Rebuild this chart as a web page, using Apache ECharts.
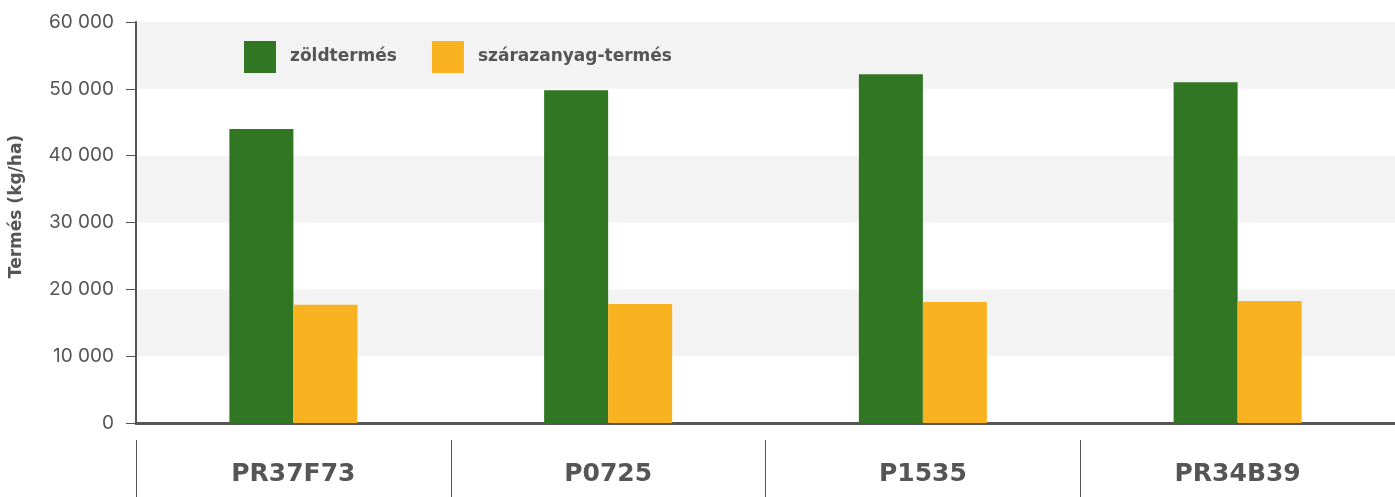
<!DOCTYPE html>
<html><head><meta charset="utf-8">
<script src="https://cdn.jsdelivr.net/npm/echarts@6/dist/echarts.min.js"></script>
<style>html,body{margin:0;padding:0;background:#fff}#c{width:1395px;height:497px}</style>
</head><body><div id="c"></div>
<script>
const categories = ['PR37F73', 'P0725', 'P1535', 'PR34B39'];
const seriesNames = ['zöldtermés', 'szárazanyag-termés'];
const greenValues = [44000, 49800, 52200, 51000];
const dryValues = [17700, 17800, 18100, 18250];
const yTicks = [0, 10000, 20000, 30000, 40000, 50000, 60000];
const yAxisName = 'Termés (kg/ha)';

const fmt = v => String(v).replace(/\B(?=(\d{3})+(?!\d))/g, ' ');
const chart = echarts.init(document.getElementById('c'));
const BOLD = 'DejaVu Sans';
chart.setOption({
  animation: false,
  textStyle: { fontFamily: 'Inter' },
  legend: {
    left: 244, top: 41, itemWidth: 32, itemHeight: 32, itemGap: 35, padding: 0,
    icon: 'rect',
    textStyle: { fontFamily: BOLD, fontSize: 17, fontWeight: 'bold', color: '#555', padding: [0, 0, 0, 9] },
    data: seriesNames
  },
  grid: { left: 136, right: 0, top: 22, bottom: 74, containLabel: false, outerBoundsMode: 'none' },
  xAxis: [{
    type: 'category', data: categories,
    axisLine: { lineStyle: { color: '#555', width: 3 } },
    axisTick: { show: false }, axisLabel: { show: false }
  }, {
    type: 'category', data: categories, position: 'bottom', offset: 17,
    axisLine: { show: false },
    axisTick: { show: true, length: 60, lineStyle: { color: '#555', width: 1 } },
    axisLabel: { fontFamily: BOLD, fontSize: 25, fontWeight: 'bold', color: '#555', margin: 22 }
  }],
  yAxis: {
    type: 'value', min: yTicks[0], max: yTicks[yTicks.length - 1], interval: 10000,
    name: yAxisName, nameLocation: 'middle', nameGap: 111, nameRotate: 90,
    nameTextStyle: { fontFamily: BOLD, fontSize: 17, fontWeight: 'bold', color: '#555', padding: [0, 0, 0, 32] },
    axisLine: { show: true, lineStyle: { color: '#555', width: 2 } },
    axisTick: { show: true, length: 10, lineStyle: { color: '#555', width: 1 } },
    axisLabel: { fontSize: 19, color: '#555', margin: 22, formatter: fmt },
    splitLine: { show: false },
    splitArea: { show: true, areaStyle: { color: ['#ffffff', '#f3f3f3'] } }
  },
  series: [{
    name: seriesNames[0], type: 'bar', data: greenValues, barWidth: 64, barGap: '0%',
    itemStyle: { color: '#317623' }
  }, {
    name: seriesNames[1], type: 'bar', data: dryValues, barWidth: 64, barGap: '0%',
    itemStyle: { color: '#f9b220' }
  }]
});
</script></body></html>
